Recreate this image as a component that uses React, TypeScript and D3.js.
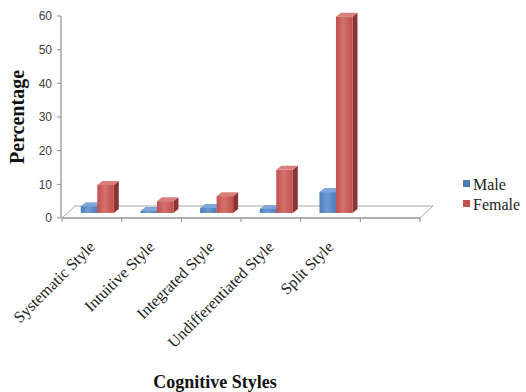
import React from "react";
import * as d3 from "d3";

const categories = [
  "Systematic Style",
  "Intuitive Style",
  "Integrated Style",
  "Undifferentiated Style",
  "Split Style",
  "",
];
const maleValues = [2.0, 0.6, 1.5, 1.2, 6.2];
const femaleValues = [8.3, 3.5, 5.0, 12.8, 58.3];
const yTicks = [0, 10, 20, 30, 40, 50, 60];
const seriesNames = ["Male", "Female"];

const W = 526;
const H = 392;

// floor geometry (front edge + depth vector)
const x0 = 62;
const x1 = 420;
const yBase = 218;
const depthX = 13;
const depthY = -12;
// bars stand at part of the floor depth
const barDepthStart = 0.42;
const barDx = 5;
const barDy = -4;

const palette = [
  { front: "#4A7EBB", light: "#6E9AD3", side: "#2F5A8C", top: "#7FA7DB" },
  { front: "#C0504D", light: "#D4716E", side: "#8C3431", top: "#D9807D" },
];

export default function App() {
  const x = d3.scaleBand<string>().domain(categories.map((c, i) => c + i)).range([x0, x1 + 0]);
  const y = d3.scaleLinear().domain([0, 60]).range([yBase, 16]);
  const slot = x.bandwidth();
  const barW = 16.5;

  const offX = depthX * barDepthStart;
  const offY = depthY * barDepthStart;
  const bars: JSX.Element[] = [];

  categories.slice(0, maleValues.length).forEach((c, i) => {
    const cx = (x(c + i) as number) + slot / 2;
    [maleValues[i], femaleValues[i]].forEach((v, s) => {
      const left = cx - barW + s * barW + offX;
      const right = left + barW;
      const bottom = yBase + offY;
      const top = bottom - (y(0) - y(v));
      const col = palette[s];
      const gid = `g${s}`;
      bars.push(
        <g key={`${i}-${s}`}>
          <polygon
            points={`${right},${top} ${right + barDx},${top + barDy} ${right + barDx},${bottom + barDy} ${right},${bottom}`}
            fill={col.side}
          />
          <polygon
            points={`${left},${top} ${left + barDx},${top + barDy} ${right + barDx},${top + barDy} ${right},${top}`}
            fill={col.top}
          />
          <rect x={left} y={top} width={barW} height={bottom - top} fill={`url(#${gid})`} />
        </g>
      );
    });
  });

  const ticksX = d3.range(categories.length + 1).map((i) => x0 + i * slot);

  return (
    <svg width={W} height={H} style={{ position: "absolute", left: 0, top: 0, background: "#fff" }}>
      <defs>
        {palette.map((p, s) => (
          <linearGradient key={s} id={`g${s}`} x1="0" x2="1" y1="0" y2="0">
            <stop offset="0" stopColor={p.front} />
            <stop offset="0.45" stopColor={p.light} />
            <stop offset="1" stopColor={p.front} />
          </linearGradient>
        ))}
      </defs>

      {/* floor */}
      <polygon
        points={`${x0},${yBase} ${x1},${yBase} ${x1 + depthX},${yBase + depthY} ${x0 + depthX},${yBase + depthY}`}
        fill="#fff"
        stroke="#A6A6A6"
        strokeWidth={1}
      />
      <line x1={x0} x2={x1} y1={yBase} y2={yBase} stroke="#8C8C8C" strokeWidth={1.2} />
      {ticksX.map((tx, i) => (
        <line key={i} x1={tx} x2={tx} y1={yBase} y2={yBase + 4} stroke="#8C8C8C" />
      ))}

      {/* value axis */}
      <line x1={61} x2={61} y1={y(60)} y2={y(0)} stroke="#8C8C8C" strokeWidth={1.2} />
      {yTicks.map((t) => (
        <g key={t}>
          <line x1={57} x2={61} y1={y(t)} y2={y(t)} stroke="#8C8C8C" />
          <text
            x={52}
            y={y(t)}
            dy="0.35em"
            textAnchor="end"
            fontFamily="Liberation Sans, Arial, sans-serif"
            fontSize={12}
            fill="#404040"
          >
            {t}
          </text>
        </g>
      ))}

      {bars}

      {/* category labels */}
      {categories.slice(0, maleValues.length).map((c, i) => {
        const cx = (x(c + i) as number) + slot / 2;
        return (
          <text
            key={c}
            transform={`translate(${cx + 4},${yBase + 30}) rotate(-45)`}
            textAnchor="end"
            fontFamily="Liberation Serif, Times New Roman, serif"
            fontSize={16}
            fill="#222"
          >
            {c}
          </text>
        );
      })}

      <text
        transform={`translate(24,${117}) rotate(-90)`}
        textAnchor="middle"
        fontFamily="Liberation Serif, Times New Roman, serif"
        fontWeight="bold"
        fontSize={20}
        fill="#111"
      >
        Percentage
      </text>
      <text
        x={215}
        y={388}
        textAnchor="middle"
        fontFamily="Liberation Serif, Times New Roman, serif"
        fontWeight="bold"
        fontSize={18}
        fill="#111"
      >
        Cognitive Styles
      </text>

      {/* legend */}
      {seriesNames.map((n, s) => (
        <g key={n} transform={`translate(463,${184 + s * 20})`}>
          <rect x={0} y={-4} width={7} height={7} fill={palette[s].front} />
          <text
            x={10}
            y={0}
            dy="0.35em"
            fontFamily="Liberation Serif, Times New Roman, serif"
            fontSize={16}
            fill="#222"
          >
            {n}
          </text>
        </g>
      ))}
    </svg>
  );
}
